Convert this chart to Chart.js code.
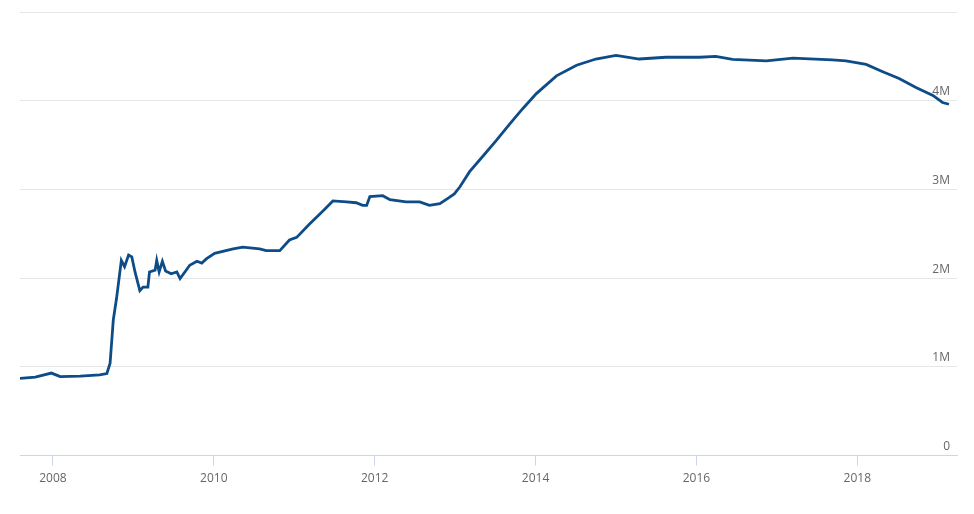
<!DOCTYPE html>
<html>
<head>
<meta charset="utf-8">
<script src="https://cdn.jsdelivr.net/npm/chart.js@4/dist/chart.umd.min.js"></script>
<style>
    body { margin: 0; background: #fff; }
    #wrap { width: 974px; height: 514px; }
</style>
</head>
<body>
<div id="wrap"><canvas id="balanceChart" width="974" height="514"></canvas></div>
<script>
// decimal years
const years = [
    2007.59, 2007.78, 2007.98, 2008.09, 2008.34, 2008.58, 2008.67, 2008.71, 2008.75, 2008.79,
    2008.85, 2008.89, 2008.94, 2008.98, 2009.02, 2009.08, 2009.12, 2009.18, 2009.20, 2009.27,
    2009.29, 2009.32, 2009.36, 2009.40, 2009.47, 2009.54, 2009.58, 2009.64, 2009.70, 2009.79,
    2009.85, 2009.91, 2010.01, 2010.24, 2010.36, 2010.57, 2010.65, 2010.82, 2010.94, 2011.03,
    2011.19, 2011.36, 2011.48, 2011.65, 2011.77, 2011.85, 2011.90, 2011.94, 2012.10, 2012.19,
    2012.39, 2012.56, 2012.68, 2012.81, 2012.91, 2012.99, 2013.06, 2013.18, 2013.35, 2013.51,
    2013.68, 2013.84, 2014.01, 2014.26, 2014.51, 2014.75, 2015.00, 2015.29, 2015.62, 2016.04,
    2016.24, 2016.45, 2016.87, 2017.20, 2017.69, 2017.86, 2018.11, 2018.31, 2018.52, 2018.73,
    2018.94, 2019.06, 2019.14
];

// balance sheet total, in M (millions of millions)
const balance = [
    0.87, 0.885, 0.93, 0.89, 0.895, 0.91, 0.925, 1.04, 1.53, 1.77,
    2.20, 2.13, 2.26, 2.24, 2.07, 1.86, 1.90, 1.90, 2.07, 2.09,
    2.20, 2.07, 2.19, 2.08, 2.05, 2.07, 1.995, 2.07, 2.145, 2.19,
    2.17, 2.22, 2.28, 2.33, 2.35, 2.33, 2.31, 2.31, 2.43, 2.46,
    2.61, 2.76, 2.87, 2.86, 2.85, 2.82, 2.82, 2.92, 2.93, 2.885,
    2.86, 2.86, 2.82, 2.84, 2.90, 2.95, 3.03, 3.20, 3.38, 3.55,
    3.74, 3.91, 4.08, 4.28, 4.40, 4.47, 4.51, 4.47, 4.49, 4.49,
    4.50, 4.465, 4.45, 4.48, 4.46, 4.45, 4.41, 4.33, 4.25, 4.15,
    4.06, 3.98, 3.96
];

const yearTicks = [2008, 2010, 2012, 2014, 2016, 2018];
const valueTicks = [0, 1, 2, 3, 4, 5];

const points = years.map((x, i) => ({ x: x, y: balance[i] }));

const config = {
    type: 'line',
    data: {
        datasets: [{
            data: points,
            borderColor: '#0e4c88',
            borderWidth: 2.8,
            pointRadius: 0,
            tension: 0,
            fill: false,
        }]
    },
    options: {
        responsive: false,
        animation: false,
        layout: { padding: { left: 20, right: 17, top: 12, bottom: 22 } },
        plugins: {
            legend: { display: false },
            tooltip: { enabled: false }
        },
        scales: {
            x: {
                type: 'linear',
                min: 2007.59,
                max: 2019.24,
                afterBuildTicks: scale => { scale.ticks = yearTicks.map(v => ({ value: v })); },
                ticks: {
                    callback: v => String(v),
                    color: '#666',
                    font: { family: 'Open Sans', size: 12 },
                    padding: 6,
                    maxRotation: 0,
                },
                grid: { drawOnChartArea: false, tickLength: 10, color: '#ccd6eb' },
                border: { color: '#ccd6eb', width: 1 }
            },
            y: {
                position: 'right',
                min: 0,
                max: 5,
                afterBuildTicks: scale => { scale.ticks = valueTicks.map(v => ({ value: v })); },
                ticks: {
                    mirror: true,
                    padding: -7,
                    labelOffset: -9,
                    color: '#666',
                    font: { family: 'Open Sans', size: 12 },
                    callback: v => v === 5 ? '' : (v === 0 ? '0' : v + 'M')
                },
                grid: { color: '#e6e6e6', drawTicks: false },
                border: { display: false }
            }
        }
    }
};

new Chart(document.getElementById('balanceChart').getContext('2d'), config);
</script>
</body>
</html>
